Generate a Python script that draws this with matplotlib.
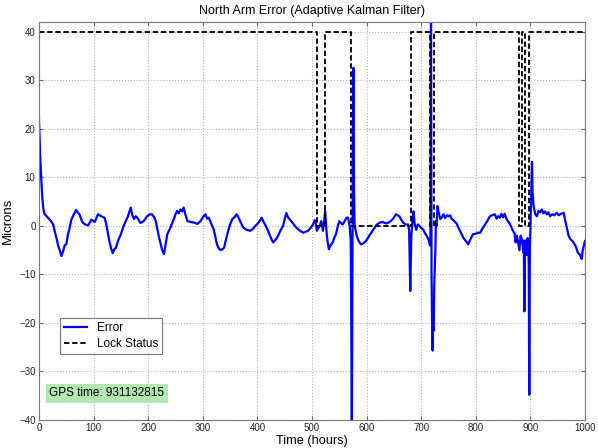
import matplotlib.pyplot as plt

plt.rcParams['font.family'] = ['Liberation Sans', 'DejaVu Sans']

# Error trace (hours, microns), split by time window
err_0_200 = [(0, 22), (2, 15), (4, 10), (6, 6), (8, 3.5), (10, 2.5), (14, 2.0), (18, 1.5),
             (22, 1.0), (26, 0.3), (29, -1.2), (32, -2.5), (35, -4.0), (38, -5.0), (41, -6.2),
             (44, -5.3), (47, -4.0), (50, -3.8), (53, -1.8), (56, -0.5), (59, 1.2), (63, 2.2),
             (68, 3.3), (71, 2.8), (74, 2.4), (77, 1.5), (80, 0.7), (85, 0.3), (90, 0.1),
             (96, 1.3), (102, 0.8), (108, 2.4), (114, 2.0), (120, 1.7), (123, 0.5), (126, -1.4),
             (129, -3.2), (132, -4.6), (135, -5.6), (138, -4.8), (141, -4.5), (145, -3.0),
             (150, -1.7), (155, 0.0), (159, 1.0), (163, 2.0), (168, 3.8), (171, 2.2), (174, 1.4),
             (177, 2.0), (180, 1.7), (186, 0.6), (192, 1.0), (198, 2.0)]
err_200_400 = [(203, 2.4), (207, 2.4), (211, 1.8), (214, 1.0), (217, -0.8), (220, -2.4),
               (223, -3.8), (226, -5.1), (229, -5.8), (232, -3.8), (235, -1.7), (238, -1.0),
               (241, -0.3), (244, 0.6), (247, 1.4), (250, 2.4), (253, 3.1), (256, 2.6),
               (259, 3.4), (262, 3.0), (265, 3.8), (268, 2.4), (272, 1.0), (278, 0.8),
               (284, 0.7), (290, 0.4), (296, 1.0), (300, 1.8), (305, 2.4), (308, 1.5),
               (311, 1.7), (315, 0.6), (320, -0.7), (323, -2.2), (326, -3.8), (329, -4.6),
               (333, -5.0), (336, -4.8), (339, -4.5), (342, -3.0), (345, -1.7), (349, 0.0),
               (354, 1.4), (358, 1.8), (362, 2.4), (366, 1.6), (370, 0.6), (374, -0.3),
               (380, -0.8), (387, -1.0), (392, -0.6), (396, 0.0)]
err_400_600 = [(400, 0.4), (404, 1.0), (408, 1.7), (411, 0.9), (414, 0.3), (418, -0.6),
               (423, -2.0), (426, -2.8), (429, -3.4), (432, -3.0), (435, -2.6), (438, -2.0),
               (442, -1.0), (447, 0.0), (450, 1.4), (453, 2.7), (456, 1.8), (459, 1.4),
               (464, 0.7), (471, -0.3), (477, -0.9), (484, -1.4), (488, -1.2), (493, -1.0),
               (498, -0.3), (502, 0.3), (505, 1.2), (507, 0.5), (509, -1.0), (511, -0.5),
               (514, 0.0), (517, 1.0), (520, -1.0), (522, 0.5), (524, 3.1), (527, -1.7),
               (529, -3.5), (531, -4.8), (534, -4.0), (538, -3.4), (541, -2.4), (544, -1.7),
               (547, -0.2), (550, 1.0), (553, 0.6), (556, 0.3), (560, 1.0), (563, 1.7),
               (566, 1.7), (569, 0.0), (571, -3.0), (572, -20), (573, -45), (574, -10),
               (575, 20), (576, 32.6), (577, 8), (578, 0.3), (580, -1.0), (582, -2.0),
               (584, -2.7), (587, -3.4), (590, -3.8), (594, -3.6), (599, -3.1)]
err_600_800 = [(605, -2.0), (611, -1.0), (618, 0.2), (624, 0.7), (630, 0.8), (636, 0.5),
               (642, 0.8), (648, 1.4), (654, 2.4), (660, 2.0), (664, 1.2), (667, 0.7),
               (671, 0.3), (676, 0.3), (678, -1.0), (680, -13.4), (682, -2.0), (684, 1.0),
               (686, 3.0), (688, 0.5), (691, -0.8), (694, 0.3), (697, 0.0), (700, -0.4),
               (704, -0.8), (707, -1.5), (710, -2.0), (713, -2.7), (715, -3.4), (716, -4.0),
               (717, -2.0), (718, 42), (719, -10), (720, -20), (721, -25.7), (722, -18),
               (723, -21.6), (724, -12), (726, -5), (727, 1.0), (728, 0.0), (730, 4.1),
               (732, 2.8), (735, 1.4), (738, 1.8), (741, 2.4), (744, 1.6), (747, 2.2),
               (750, 2.0), (753, 2.2), (756, 1.4), (759, 1.2), (762, 0.8), (765, 0.5),
               (768, -0.3), (772, -1.2), (777, -2.4), (781, -3.0), (786, -3.8), (790, -2.8),
               (795, -1.7)]
err_800_1000 = [(800, -1.6), (804, -1.4), (808, -1.4), (812, -0.6), (817, 0.3), (821, 1.0),
                (826, 2.0), (830, 2.2), (835, 2.4), (838, 1.5), (841, 2.0), (844, 1.7),
                (847, 2.5), (850, 1.8), (853, 2.5), (856, 1.5), (859, 1.0), (862, 0.5),
                (865, -0.2), (868, -1.0), (871, -1.5), (873, -3.4), (875, -2.0), (877, -3.0),
                (880, -5.0), (882, -2.0), (884, -2.5), (886, -4.0), (887, -5.5), (888, -3.0),
                (889, -17.6), (890, -6), (891, -3.0), (892, -4.5), (893, -6.0), (894, -3.5),
                (895, -2.5), (896, -3.0), (897, -8), (898, -34.8), (899, -5), (900, -1.0),
                (901, 4), (902, 10), (903, 13.2), (904, 7), (906, 4.0), (909, 2.4), (912, 2.0),
                (915, 3.1), (918, 2.8), (921, 3.4), (924, 2.6), (927, 3.0), (930, 2.4),
                (933, 2.8), (936, 2.0), (940, 2.4), (944, 2.2), (948, 2.7), (952, 2.2),
                (956, 2.5), (961, 2.7), (964, 1.0), (967, -0.5), (970, -2.0), (973, -2.7),
                (976, -3.0), (979, -3.4), (983, -4.2), (987, -5.5), (991, -6.0), (994, -6.8),
                (996, -5.0), (998, -4.0), (1000, -3.1)]

# Lock status: 40 when locked, 0 when not
t_lock = [0, 510, 510, 524, 524, 571, 571, 681, 681, 716, 716, 723, 723, 879, 879,
          885, 885, 891, 891, 897, 897, 1000]
lock = [40, 40, 0, 0, 40, 40, 0, 0, 40, 40, 0, 0, 40, 40, 0,
        0, 40, 40, 0, 0, 40, 40]

pts = err_0_200 + err_200_400 + err_400_600 + err_600_800 + err_800_1000
t_err = [p[0] for p in pts]
err = [p[1] for p in pts]

fig = plt.figure(figsize=(5.98, 4.48), dpi=100)
ax = fig.add_axes([0.0652, 0.0625, 0.913, 0.888])

ax.plot(t_err, err, '-', color='#0000ff', lw=1.6, label='Error')
ax.plot(t_lock, lock, '--', color='black', lw=1.3, dashes=(3, 1.5), label='Lock Status')

ax.set_xlim(0, 1000)
ax.set_ylim(-40, 42)
ax.set_yticks(range(-40, 41, 10))
ax.set_xticks(range(0, 1001, 100))
ax.grid(True, linestyle=':', color='#b0b0b0', lw=0.8)
ax.tick_params(direction='in', labelsize=7, length=3, color='#666666', pad=2.5,
               top=True, right=True, labelcolor='#222222')
for s in ax.spines.values():
    s.set_color('#777777')

ax.set_title('North Arm Error (Adaptive Kalman Filter)', fontsize=9, pad=6)
ax.set_xlabel('Time (hours)', fontsize=9.2, labelpad=1)
ax.set_ylabel('Microns', fontsize=9.5, labelpad=4)

leg = ax.legend(loc='lower left', bbox_to_anchor=(0.038, 0.166), borderaxespad=0,
                fontsize=8.5, fancybox=False, edgecolor='#777777', handlelength=2.0,
                borderpad=0.35, labelspacing=0.3, framealpha=1)
leg.get_frame().set_linewidth(0.8)

ax.text(0.019, 0.06, 'GPS time: 931132815', transform=ax.transAxes, fontsize=8.5,
        bbox=dict(facecolor='#b3e6b0', edgecolor='none', pad=2.5))

fig.savefig('out.png', dpi=100)
